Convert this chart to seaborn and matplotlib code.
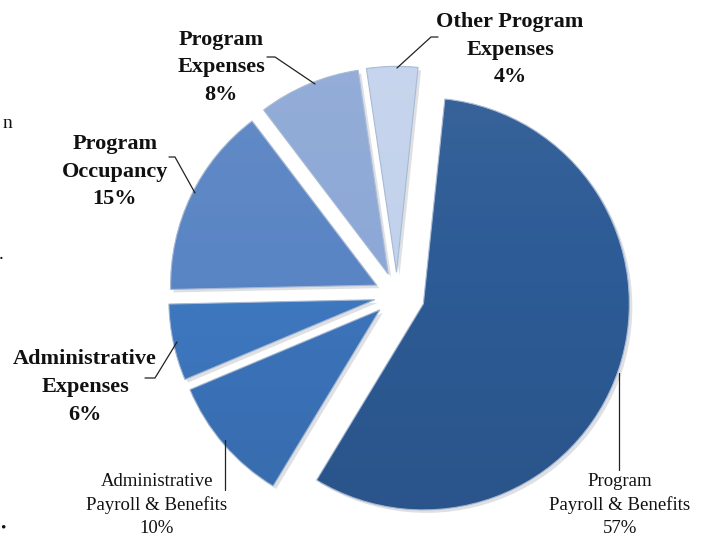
import matplotlib
matplotlib.use("Agg")
import matplotlib.pyplot as plt
from matplotlib.lines import Line2D
import numpy as np
import seaborn as sns

# slice data, clockwise from the top
categories = [
    "Program\nPayroll & Benefits",
    "Administrative\nPayroll & Benefits",
    "Administrative\nExpenses",
    "Program\nOccupancy",
    "Program\nExpenses",
    "Other Program\nExpenses",
]
shares = [57, 10, 6, 15, 8, 4]
colors = ["#2D5B95", "#3C74BB", "#3E78C0", "#5A85C4", "#8DA8D6", "#C3D2EC"]

W, H = 706, 539


def fx(x):
    return x / W


def fy(y):
    return 1 - y / H


def create_chart() -> None:
    sns.set_theme(style="white")
    plt.rcParams["font.family"] = ["Liberation Serif", "DejaVu Serif"]

    fig = plt.figure(figsize=(W / 100, H / 100), dpi=100)
    ax = fig.add_axes([0, 0, 1, 1])

    r_px = 206
    explode = [0.135, 0.11, 0.11, 0.11, 0.11, 0.11]

    # soft shadow under the slices
    ax.pie(
        shares,
        colors=["#C8CCD2"] * len(shares),
        startangle=84,
        counterclock=False,
        explode=explode,
        center=(3 / r_px, -3 / r_px),
        wedgeprops=dict(linewidth=0, alpha=0.6),
    )
    wedges, _ = ax.pie(
        shares,
        colors=colors,
        startangle=84,
        counterclock=False,
        explode=explode,
        wedgeprops=dict(edgecolor="#A7B9D4", linewidth=0.8),
    )

    # pie centre at pixel (397, 295)
    cx, cy = 397, 295
    x0, x1 = -cx / r_px, (W - cx) / r_px
    y0, y1 = -(H - cy) / r_px, cy / r_px

    # light from the top, a little darker towards the bottom
    t = np.linspace(0, 1, 256)
    grad = np.zeros((256, 1, 4))
    top = np.clip(1 - 2 * t, 0, 1)
    bottom = np.clip(2 * t - 1, 0, 1)
    grad[:, 0, :3] = (top > 0)[:, None] * 1.0
    grad[:, 0, 3] = 0.08 * top + 0.08 * bottom
    for w in wedges:
        im = ax.imshow(grad, extent=(x0, x1, y0, y1), aspect="auto",
                       interpolation="bilinear", zorder=w.get_zorder() + 0.1)
        im.set_clip_path(w)

    ax.set_aspect("auto")
    ax.set_xlim(x0, x1)
    ax.set_ylim(y0, y1)
    ax.axis("off")

    # labels with leader lines (pixel positions of the reference)
    bold = dict(fontsize=16, fontweight="bold", color="#111111",
                ha="center", va="center", linespacing=1.5)
    light = dict(fontsize=13.5, color="#111111",
                 ha="center", va="center", linespacing=1.42)

    labels = [f"{c}\n{s}%" for c, s in zip(categories, shares)]
    fig.text(fx(620), fy(505), labels[0], **light)
    fig.text(fx(157), fy(505), labels[1], **light)
    fig.text(fx(85), fy(387), labels[2], **bold)
    fig.text(fx(115), fy(172), labels[3], **bold)
    fig.text(fx(221), fy(67), labels[4], **bold)
    fig.text(fx(510), fy(50), labels[5], **bold)

    leaders = [
        [(619, 373), (619, 470)],
        [(225, 440), (225, 490)],
        [(177, 342), (155, 378), (145, 378)],
        [(195, 193), (175, 157), (169, 157)],
        [(315, 84), (275, 57), (267, 57)],
        [(397, 68), (431, 37), (438, 37)],
    ]
    for pts in leaders:
        xs = [fx(p[0]) for p in pts]
        ys = [fy(p[1]) for p in pts]
        fig.add_artist(Line2D(xs, ys, color="#222222", linewidth=0.9))

    # cropped fragments on the left edge of the reference
    fig.text(fx(12), fy(123), "n", fontsize=14, color="#111111",
             ha="right", va="center")
    fig.text(fx(4), fy(255), ".", fontsize=14, color="#111111",
             ha="right", va="center")
    fig.text(fx(0), fy(528), "•", fontsize=11, color="#111111",
             ha="left", va="center")

    fig.savefig("out.png", dpi=100, facecolor="white")
    plt.close(fig)


if __name__ == "__main__":
    create_chart()
